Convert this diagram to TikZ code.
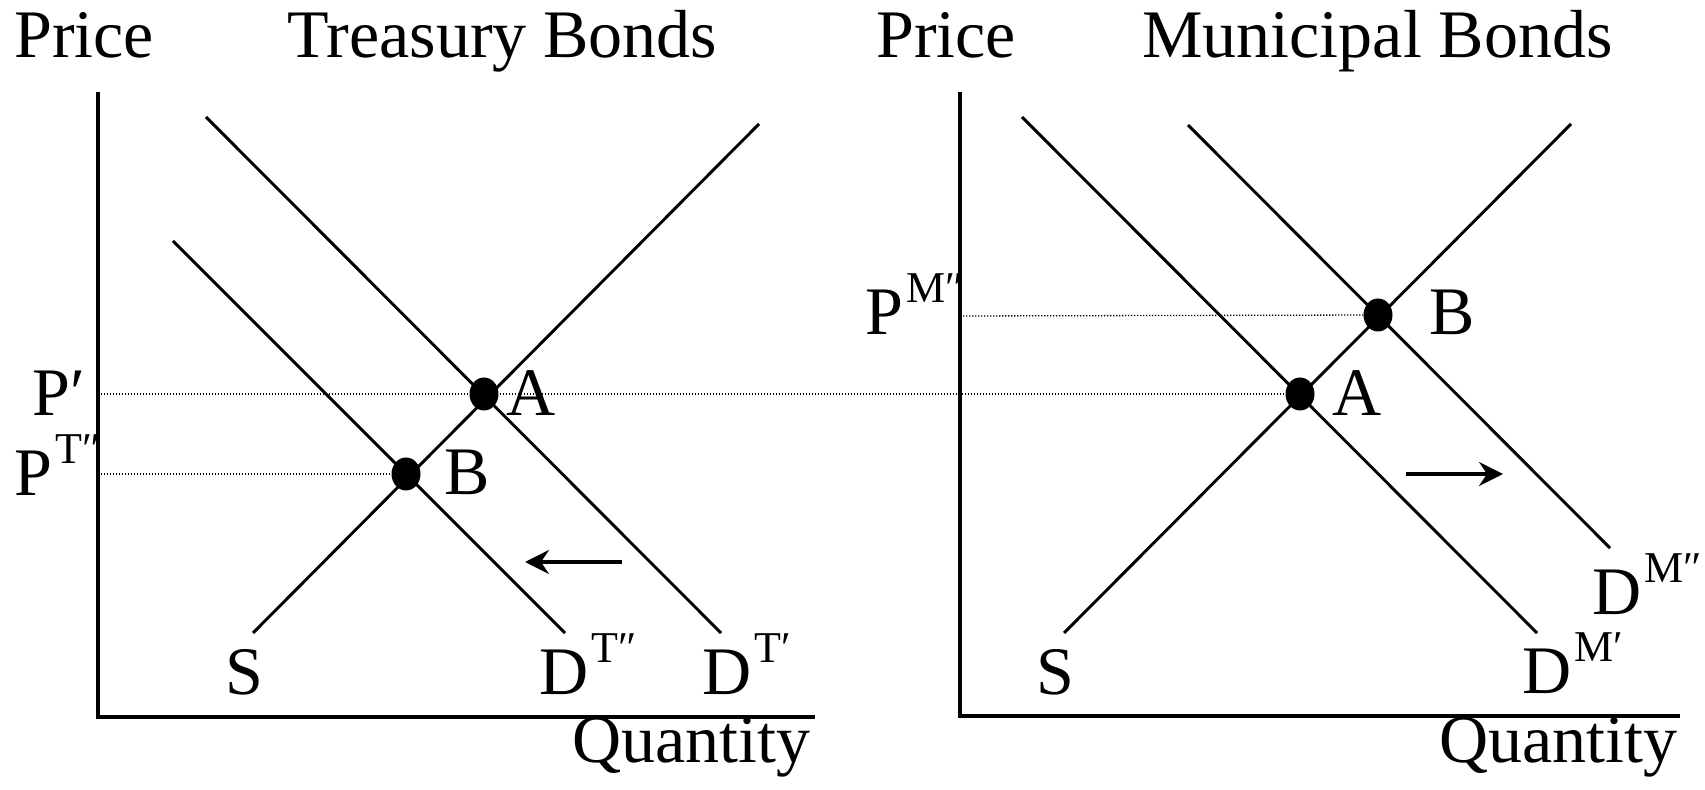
\documentclass[tikz,border=0pt]{standalone}
\usepackage{fontspec}
\setmainfont{Liberation Serif}
\usetikzlibrary{arrows.meta,shapes.geometric}
\newcommand{\supx}[1]{\hspace{1.5pt}\raisebox{16pt}{\fontsize{22}{22}\selectfont #1}}
\begin{document}
\begin{tikzpicture}[x=0.5pt,y=-0.5pt,
  lbl/.style={inner sep=0pt, anchor=base west, font=\fontsize{34}{34}\selectfont},
  lblc/.style={inner sep=0pt, anchor=base, font=\fontsize{34}{34}\selectfont},
  curve/.style={line width=1.45pt, line cap=butt},
  axis/.style={line width=1.7pt},
  guide/.style={line width=0.65pt, dash pattern=on 0.65pt off 0.85pt},
  dot/.style={ellipse, fill=black, draw=none, inner sep=0pt, minimum width=14.5pt, minimum height=16.5pt},
  shiftarrow/.style={line width=1.6pt, -{Stealth[length=12pt,width=12pt,inset=4pt]}}]
\useasboundingbox (0,0) rectangle (1705,790);

% ---------- left panel coordinates ----------
\coordinate (Ltop) at (98,92);
\coordinate (Lorig) at (98,717);
\coordinate (Lend) at (815,717);
\coordinate (dtpA) at (206,117);
\coordinate (dtpB) at (721,633);
\coordinate (dtppA) at (173,241);
\coordinate (dtppB) at (565,633);
\coordinate (sLA) at (253,633);
\coordinate (sLB) at (759,124);
\coordinate (a1) at (484,394);
\coordinate (b1) at (406,474);
\coordinate (pP) at (98,394);
\coordinate (pT) at (98,474);
\coordinate (arLs) at (622,562);
\coordinate (arLe) at (525,562);

% ---------- right panel coordinates ----------
\coordinate (Rtop) at (960,92);
\coordinate (Rorig) at (960,716);
\coordinate (Rend) at (1680,716);
\coordinate (dmpA) at (1022,117);
\coordinate (dmpB) at (1537,633);
\coordinate (dmppA) at (1188,125);
\coordinate (dmppB) at (1610,548);
\coordinate (sRA) at (1064,633);
\coordinate (sRB) at (1571,124);
\coordinate (a2) at (1300,394);
\coordinate (b2) at (1378,315);
\coordinate (pM) at (960,316);
\coordinate (arRs) at (1406,474);
\coordinate (arRe) at (1503,474);

% guides
\draw[guide] (pP) -- (a2);
\draw[guide] (pT) -- (b1);
\draw[guide] (pM) -- (b2);

% axes
\draw[axis] (Ltop) -- (Lorig) -- (Lend);
\draw[axis] (Rtop) -- (Rorig) -- (Rend);

% curves
\draw[curve] (dtpA) -- (dtpB);
\draw[curve] (dtppA) -- (dtppB);
\draw[curve] (sLA) -- (sLB);
\draw[curve] (dmpA) -- (dmpB);
\draw[curve] (dmppA) -- (dmppB);
\draw[curve] (sRA) -- (sRB);

% shift arrows
\draw[shiftarrow] (arLs) -- (arLe);
\draw[shiftarrow] (arRs) -- (arRe);

% dots
\node[dot] (A1) at (a1) {};
\node[dot] (B1) at (b1) {};
\node[dot] (A2) at (a2) {};
\node[dot] (B2) at (b2) {};

% titles
\node[lbl] (priceL) at (14,58) {Price};
\node[lbl] (titleL) at (287,58) {Treasury Bonds};
\node[lbl] (priceR) at (876,58) {Price};
\node[lbl] (titleR) at (1142,58) {Municipal Bonds};
\node[lbl] (qtyL) at (572,763) {Quantity};
\node[lbl] (qtyR) at (1439,763) {Quantity};

% price labels
\node[lbl] (lPp) at (32,416) {P′};
\node[lbl] (lPT) at (14,496) {P\supx{T″}};
\node[lbl] (lPM) at (865,335) {P\supx{M″}};

% point labels
\node[lbl] (lA1) at (506,416) {A};
\node[lbl] (lB1) at (444,495) {B};
\node[lbl] (lA2) at (1332,416) {A};
\node[lbl] (lB2) at (1429,335) {B};

% curve labels
\node[lblc] (lS1) at (244,695) {S};
\node[lblc] (lS2) at (1055,695) {S};
\node[lbl] (lDTpp) at (539,695) {D\supx{T″}};
\node[lbl] (lDTp) at (702,695) {D\supx{T′}};
\node[lbl] (lDMp) at (1522,694) {D\supx{M′}};
\node[lbl] (lDMpp) at (1592,615) {D\supx{M″}};
\end{tikzpicture}
\end{document}
